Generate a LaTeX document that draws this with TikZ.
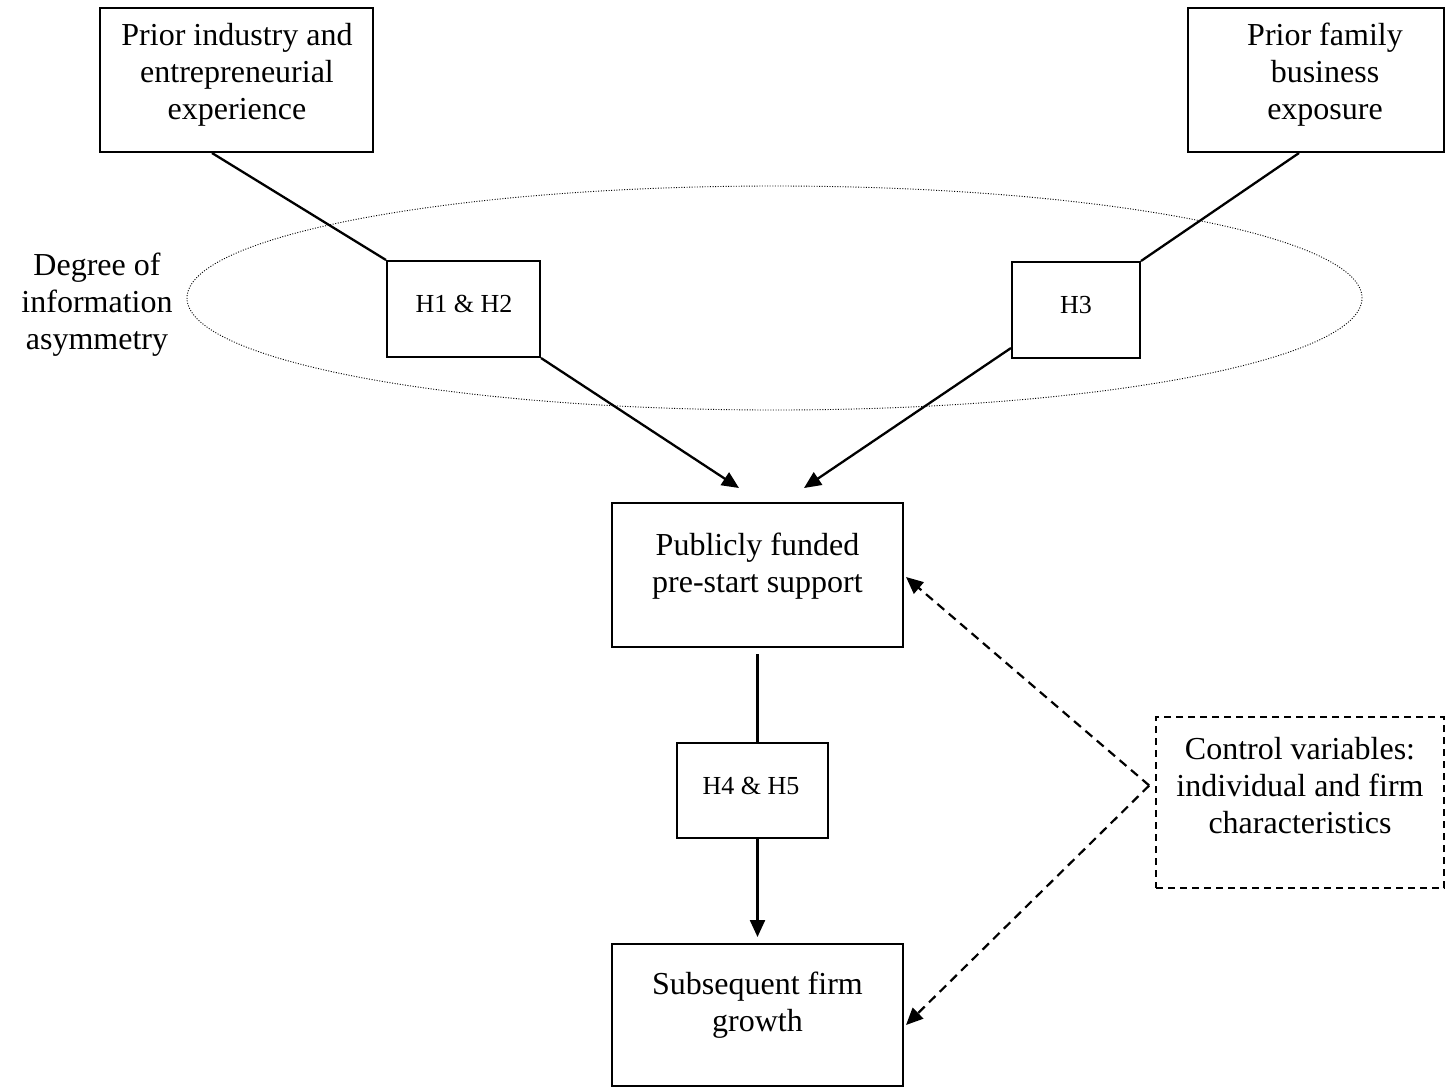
\documentclass[tikz,border=0pt]{standalone}
\usepackage{fontspec}
\setmainfont{Liberation Serif}
\usetikzlibrary{arrows.meta,calc,shapes.geometric}
\begin{document}
\begin{tikzpicture}[x=1pt,y=1pt,
  boxshape/.style={draw,line width=2pt,inner sep=0pt},
  bigtxt/.style={align=center,inner sep=0pt,font=\fontsize{32}{37}\selectfont},
  htxt/.style={inner sep=0pt,font=\fontsize{26}{30}\selectfont},
  conn/.style={line width=2.3pt},
  tip/.style={-{Triangle[length=17pt,width=15pt]}},
  dashconn/.style={line width=2.2pt,dash pattern=on 9pt off 6pt}
]
\useasboundingbox (0,0) rectangle (1446,-1088);
% top boxes
\node[boxshape,minimum width=273,minimum height=144] (a) at (236.5,-80) {};
\node[bigtxt] (at) at (237,-75) {Prior industry and\\entrepreneurial\\experience};
\node[boxshape,minimum width=256,minimum height=144] (b) at (1316,-80) {};
\node[bigtxt] (bt) at (1325,-75) {Prior family\\business\\exposure};
% ellipse
\node[draw,ellipse,line width=0.9pt,dash pattern=on 1pt off 1.6pt,minimum width=1175,minimum height=224,inner sep=0pt] (ell) at (774.5,-298) {};
\node[bigtxt] (deg) at (97,-305) {Degree of\\information\\asymmetry};
% hypothesis boxes
\node[boxshape,minimum width=153,minimum height=96] (h12) at (463.5,-309) {};
\node[htxt] (h12t) at (464,-304) {H1 \& H2};
\node[boxshape,minimum width=128,minimum height=96] (h3) at (1076,-310) {};
\node[htxt] (h3t) at (1076,-305) {H3};
% middle boxes
\node[boxshape,minimum width=291,minimum height=144] (p) at (757.5,-575) {};
\node[bigtxt] (pt) at (757.5,-566) {Publicly funded\\pre-start support};
\node[boxshape,minimum width=151,minimum height=95] (h45) at (752.5,-790.5) {};
\node[htxt] (h45t) at (751,-786) {H4 \& H5};
\node[boxshape,minimum width=291,minimum height=142] (s) at (757.5,-1015) {};
\node[bigtxt] (st) at (757.5,-1005) {Subsequent firm\\growth};
\node[draw,line width=1.6pt,dash pattern=on 7pt off 5pt,inner sep=0pt,minimum width=288,minimum height=171] (c) at (1300,-802.5) {};
\node[bigtxt] (ct) at (1300,-786) {Control variables:\\individual and firm\\characteristics};
% connectors
\draw[conn] ($(a.south west)+(113,0)$) -- (h12.north west);
\draw[conn,tip] (h12.south east) -- ($(p.north west)+(128,14)$);
\draw[conn] ($(b.south west)+(112,0)$) -- (h3.north east);
\draw[conn,tip] ($(h3.south west)+(0,11)$) -- ($(p.north west)+(193,14)$);
\draw[conn] ($(p.south)+(0,-6)$) -- (h45.north -| p.south);
\draw[conn,tip] (h45.south -| p.south) -- ($(s.north)+(0,6)$);
\coordinate (cstart) at ($(c.west)+(-6,17)$);
\draw[dashconn,tip] (cstart) -- ($(p.east)+(2,-2)$);
\draw[dashconn,tip] (cstart) -- ($(s.east)+(2,-10)$);
\end{tikzpicture}
\end{document}
